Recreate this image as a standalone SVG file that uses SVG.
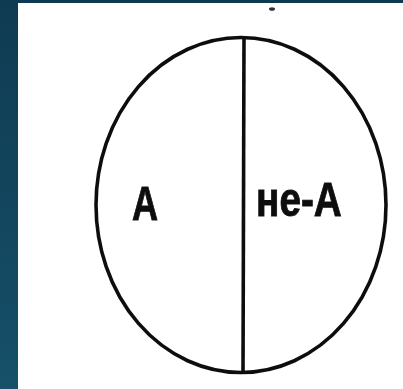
<svg xmlns="http://www.w3.org/2000/svg" width="403" height="389" viewBox="0 0 403 389">
  <defs>
    <linearGradient id="bg" x1="0" y1="0" x2="0" y2="1">
      <stop offset="0" stop-color="#0f3b52"/>
      <stop offset="1" stop-color="#165069"/>
    </linearGradient>
    <filter id="soft" x="-5%" y="-5%" width="110%" height="110%">
      <feGaussianBlur stdDeviation="0.7"/>
    </filter>
  </defs>
  <style>
    .ink { fill: none; stroke: #111; stroke-width: 3.6; }
    .lbl { font-family: "Liberation Sans", Arial, sans-serif; font-weight: bold; font-size: 38px; fill: #111; stroke: #111; stroke-width: 0.7; }
  </style>
  <rect x="0" y="0" width="403" height="389" fill="url(#bg)"/>
  <rect x="18" y="3" width="385" height="386" fill="#ffffff"/>
  <g filter="url(#soft)">
    <g id="circle">
      <ellipse class="ink" cx="241" cy="205" rx="145" ry="167.5"/>
    </g>
    <g id="connectors">
      <line class="ink" x1="244" y1="37" x2="243" y2="372"/>
    </g>
    <g id="nodeA">
      <text class="lbl" transform="translate(132,220) scale(0.95,1.28)">А</text>
    </g>
    <g id="nodeNotA">
      <text class="lbl" transform="translate(256,216) scale(1.02,1.28)">не-А</text>
    </g>
    <ellipse cx="272" cy="9" rx="3" ry="1.8" fill="#333"/>
  </g>
</svg>
